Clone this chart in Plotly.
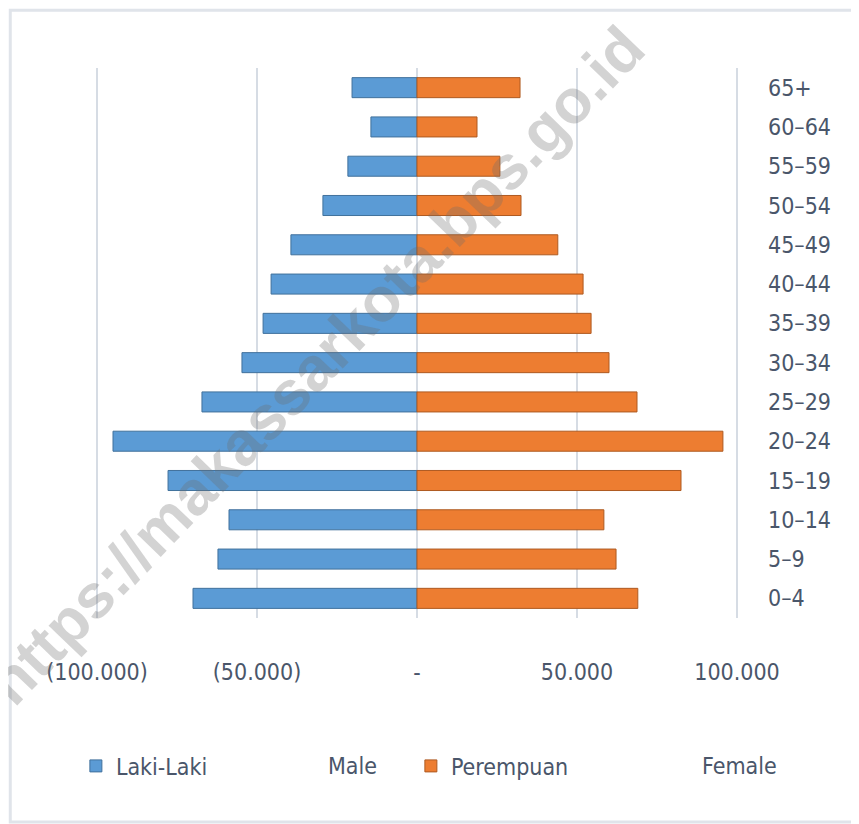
import plotly.graph_objects as go

# ---- data ----
age_groups = ["0–4", "5–9", "10–14", "15–19", "20–24", "25–29", "30–34",
              "35–39", "40–44", "45–49", "50–54", "55–59", "60–64", "65+"]
male = [70000, 62200, 58750, 77800, 95000, 67200, 54700,
        48100, 45600, 39400, 29400, 21600, 14400, 20300]
female = [69000, 62200, 58400, 82500, 95600, 68750, 60000,
          54400, 51900, 44000, 32500, 25900, 18750, 32200]
tick_vals = [-100000, -50000, 0, 50000, 100000]
tick_text = ["(100.000)", "(50.000)", "-", "50.000", "100.000"]
legend_male = "Laki-Laki"
legend_female = "Perempuan"
label_male = "Male"
label_female = "Female"
watermark = "https://makassarkota.bps.go.id"

FONT = "Liberation Sans Narrow, DejaVu Sans Condensed, Arial Narrow, sans-serif"
TXT = "#4A566A"
BLUE = "#5B9BD5"
ORANGE = "#ED7D31"
FS = 23

fig = go.Figure()
fig.add_trace(go.Bar(
    y=age_groups, x=[-v for v in male], orientation="h", name=legend_male,
    marker=dict(color=BLUE, line=dict(color="#41719C", width=1)),
))
fig.add_trace(go.Bar(
    y=age_groups, x=female, orientation="h", name=legend_female,
    marker=dict(color=ORANGE, line=dict(color="#AE5A21", width=1)),
))

fig.update_layout(
    width=851, height=816,
    margin=dict(l=81, r=114, t=60, b=206),
    paper_bgcolor="white", plot_bgcolor="white",
    barmode="overlay", bargap=0.49,
    font=dict(family=FONT, size=FS, color=TXT),
    showlegend=True,
    legend=dict(orientation="h", x=-0.02, y=-0.269, xanchor="left", yanchor="middle",
                entrywidth=290, font=dict(family=FONT, size=FS, color=TXT),
                bgcolor="rgba(0,0,0,0)"),
    xaxis=dict(range=[-102500, 102500], tickvals=tick_vals, ticktext=tick_text,
               showgrid=True, gridcolor="#D6DCE4", gridwidth=2, zeroline=False,
               showline=False, ticks="", ticklabelstandoff=38, fixedrange=True),
    yaxis=dict(side="right", showgrid=False, zeroline=False, showline=False,
               ticks="", ticklabelstandoff=22, fixedrange=True),
)

fig.add_annotation(xref="paper", yref="paper", x=0.401, y=-0.269, text=label_male,
                   showarrow=False, xanchor="center", yanchor="middle",
                   font=dict(family=FONT, size=FS, color=TXT))
fig.add_annotation(xref="paper", yref="paper", x=0.992, y=-0.269, text=label_female,
                   showarrow=False, xanchor="center", yanchor="middle",
                   font=dict(family=FONT, size=FS, color=TXT))

# watermark
fig.add_annotation(xref="paper", yref="paper", x=0.345, y=0.46, text="<b>" + watermark + "</b>",
                   showarrow=False, textangle=-46, xanchor="center", yanchor="middle",
                   font=dict(family="Liberation Sans, Arial, sans-serif", size=62,
                             color="rgba(110,110,110,0.3)"))

# outer frame
fig.add_shape(type="rect", xref="paper", yref="paper", x0=-0.12, x1=1.2, y0=-0.371, y1=1.105,
              line=dict(color="#E0E4EA", width=3), layer="below")

fig.write_html("out.html")
